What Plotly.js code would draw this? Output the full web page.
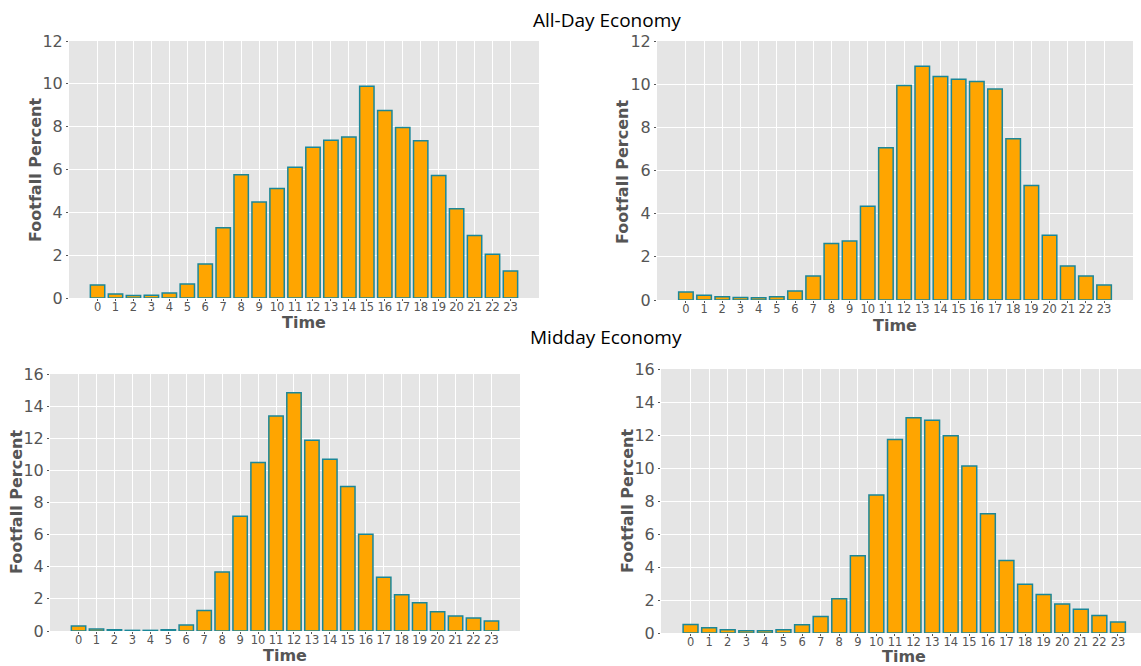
<!DOCTYPE html>
<html>
<head>
<meta charset="utf-8">
<script src="https://cdn.plot.ly/plotly-3.0.1.min.js"></script>
<style>
  html, body { margin: 0; padding: 0; background: #ffffff; }
  #chart { width: 1141px; height: 666px; }
</style>
</head>
<body>
<div id="chart"></div>
<script>
// Hour of day, 0..23
const hours = [0, 1, 2, 3, 4, 5, 6, 7, 8, 9, 10, 11, 12, 13, 14, 15, 16, 17, 18, 19, 20, 21, 22, 23];
const hourLabels = hours.map(String);

// Hourly footfall share (%) — All-Day Economy
const allDayA = [0.61, 0.19, 0.12, 0.13, 0.23, 0.65, 1.59, 3.28, 5.75, 4.48, 5.11, 6.11,
                 7.04, 7.37, 7.52, 9.89, 8.75, 7.96, 7.34, 5.72, 4.17, 2.92, 2.04, 1.26];
const allDayB = [0.37, 0.22, 0.15, 0.12, 0.11, 0.15, 0.42, 1.11, 2.62, 2.73, 4.34, 7.05,
                 9.94, 10.83, 10.35, 10.23, 10.12, 9.78, 7.47, 5.31, 3.00, 1.57, 1.11, 0.69];

// Hourly footfall share (%) — Midday Economy
const middayA = [0.31, 0.12, 0.08, 0.04, 0.04, 0.08, 0.37, 1.28, 3.68, 7.14, 10.49, 13.39,
                 14.84, 11.88, 10.70, 9.00, 6.02, 3.35, 2.26, 1.76, 1.20, 0.93, 0.81, 0.62];
const middayB = [0.52, 0.32, 0.20, 0.14, 0.14, 0.20, 0.50, 1.00, 2.08, 4.68, 8.36, 11.72,
                 13.04, 12.90, 11.96, 10.12, 7.22, 4.40, 2.96, 2.34, 1.76, 1.44, 1.06, 0.66];

const sectionTitles = ['All-Day Economy', 'Midday Economy'];
const xTitle = 'Time';
const yTitle = 'Footfall Percent';

const W = 1141, H = 666;
const px = v => v / W;
const py = v => (H - v) / H;

const barFill = '#FFA500';
const barEdge = '#1B8798';
const tickGrey = '#555555';

function barTrace(values, xa, ya) {
  return {
    type: 'bar',
    x: hours,
    y: values,
    width: 0.8,
    xaxis: xa,
    yaxis: ya,
    marker: { color: barFill, line: { color: barEdge, width: 1.5 } },
    hoverinfo: 'x+y',
    showlegend: false
  };
}

function xAxis(left, right, anchor, xmax) {
  return {
    domain: [px(left), px(right)],
    anchor: anchor,
    range: [-1.59, xmax],
    tickmode: 'array',
    tickvals: hours,
    ticktext: hourLabels,
    ticks: 'outside',
    ticklen: 2,
    tickcolor: tickGrey,
    ticklabelstandoff: -4,
    tickfont: { family: 'DejaVu Sans', size: 11.5, color: tickGrey },
    showgrid: true,
    gridcolor: '#FFFFFF',
    gridwidth: 1.4,
    zeroline: false,
    showline: false,
    fixedrange: true
  };
}

function yAxis(top, bottom, anchor, ymax) {
  return {
    domain: [py(bottom), py(top)],
    anchor: anchor,
    range: [0, ymax],
    dtick: 2,
    tick0: 0,
    ticks: 'outside',
    ticklen: 2,
    tickcolor: tickGrey,
    tickfont: { family: 'DejaVu Sans', size: 16, color: tickGrey },
    showgrid: true,
    gridcolor: '#FFFFFF',
    gridwidth: 1.4,
    zeroline: false,
    showline: false,
    fixedrange: true
  };
}

// Panel boxes in pixels: [left, right, top, bottom]
const boxes = {
  tl: [69, 539, 41, 298],
  tr: [657, 1133, 41, 300],
  bl: [50, 520, 374, 631],
  br: [661, 1141, 369, 633]
};

const data = [
  barTrace(allDayA, 'x', 'y'),
  barTrace(allDayB, 'x2', 'y2'),
  barTrace(middayA, 'x3', 'y3'),
  barTrace(middayB, 'x4', 'y4')
];

const axisTitleFont = { family: 'DejaVu Sans', size: 16, color: tickGrey, weight: 'bold' };

function textNote(text, x, y, font, angle) {
  return {
    text: text,
    xref: 'paper', yref: 'paper',
    x: px(x), y: py(y),
    xanchor: 'center', yanchor: 'middle',
    showarrow: false,
    textangle: angle || 0,
    font: font
  };
}

const sectionFont = { family: 'Open Sans', size: 19, color: '#000000' };

const annotations = [
  textNote(sectionTitles[0], 607, 20, sectionFont),
  textNote(sectionTitles[1], 606, 337, sectionFont),
  textNote(xTitle, 304, 322, axisTitleFont),
  textNote(xTitle, 895, 325, axisTitleFont),
  textNote(xTitle, 285, 655, axisTitleFont),
  textNote(xTitle, 904, 656, axisTitleFont),
  textNote(yTitle, 35, 170, axisTitleFont, -90),
  textNote(yTitle, 623, 172, axisTitleFont, -90),
  textNote(yTitle, 16, 502, axisTitleFont, -90),
  textNote(yTitle, 627, 501, axisTitleFont, -90)
];

const layout = {
  width: W,
  height: H,
  margin: { l: 0, r: 0, t: 0, b: 0, pad: 0 },
  paper_bgcolor: '#FFFFFF',
  plot_bgcolor: '#E5E5E5',
  bargap: 0.2,
  showlegend: false,
  xaxis: xAxis(boxes.tl[0], boxes.tl[1], 'y', 24.59),
  yaxis: yAxis(boxes.tl[2], boxes.tl[3], 'x', 12),
  xaxis2: xAxis(boxes.tr[0], boxes.tr[1], 'y2', 24.59),
  yaxis2: yAxis(boxes.tr[2], boxes.tr[3], 'x2', 12),
  xaxis3: xAxis(boxes.bl[0], boxes.bl[1], 'y3', 24.59),
  yaxis3: yAxis(boxes.bl[2], boxes.bl[3], 'x3', 16),
  xaxis4: xAxis(boxes.br[0], boxes.br[1], 'y4', 24.24),
  yaxis4: yAxis(boxes.br[2], boxes.br[3], 'x4', 16),
  annotations: annotations
};

Plotly.newPlot('chart', data, layout, { displayModeBar: false, responsive: false });
</script>
</body>
</html>
